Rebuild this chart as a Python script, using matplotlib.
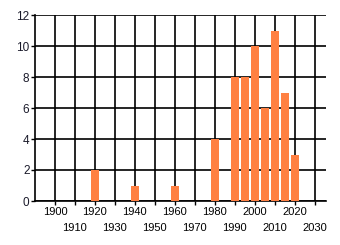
import matplotlib
matplotlib.use("Agg")
import matplotlib.pyplot as plt
from matplotlib.ticker import FixedLocator

years = [1920, 1940, 1960, 1980, 1990, 1995, 2000, 2005, 2010, 2015, 2020]
counts = [2, 1, 1, 4, 8, 8, 10, 6, 11, 7, 3]
upper_ticks = [1900, 1920, 1940, 1960, 1980, 2000, 2020]
lower_ticks = [1910, 1930, 1950, 1970, 1990, 2010, 2030]
y_ticks = [0, 2, 4, 6, 8, 10, 12]

plt.rcParams['font.family'] = ['Liberation Sans', 'DejaVu Sans']
fig = plt.figure(figsize=(3.4, 2.45), dpi=100)
ax = fig.add_axes([35/340, 1 - 201/245, (325.5 - 35)/340, (201 - 15)/245])

ax.bar(years, counts, width=4, color='#ff8042', zorder=3)
ax.set_xlim(1890, 2035.4)
ax.set_ylim(0, 12)

ax.xaxis.set_major_locator(FixedLocator(upper_ticks))
ax.xaxis.set_minor_locator(FixedLocator(lower_ticks))
ax.set_xticklabels([str(t) for t in upper_ticks])
ax.set_xticklabels([str(t) for t in lower_ticks], minor=True)
ax.set_yticks(y_ticks)

ax.tick_params(axis='x', which='major', length=3, width=1, pad=1, labelsize=8, colors='black')
ax.tick_params(axis='x', which='minor', length=3, width=1, pad=13, labelsize=8, colors='black')
ax.tick_params(axis='y', length=3, width=1, pad=1, labelsize=8.5, colors='black')
for lbl in ax.get_yticklabels():
    lbl.set_color('#1a1a2a')

ax.grid(True, which='both', axis='x', color='black', linewidth=1.2, zorder=0)
ax.grid(True, which='major', axis='y', color='black', linewidth=1.2, zorder=0)
ax.set_axisbelow(True)

for s in ['top', 'right']:
    ax.spines[s].set_visible(False)
for s in ['left', 'bottom']:
    ax.spines[s].set_linewidth(1.2)
    ax.spines[s].set_color('black')

fig.savefig('out.png', dpi=100)
